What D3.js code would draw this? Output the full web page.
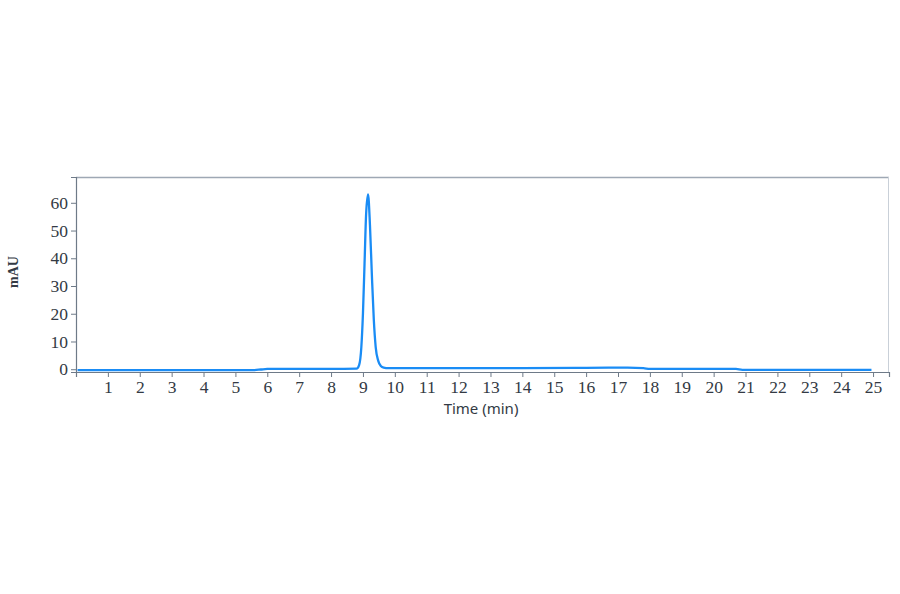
<!DOCTYPE html>
<html>
<head>
<meta charset="utf-8">
<script src="https://cdn.jsdelivr.net/npm/d3@7"></script>
<style>
  body { margin: 0; background: #fff; }
  svg { display: block; }
</style>
</head>
<body>
<div id="chart"></div>
<script>
// chromatogram readings (time in min, absorbance in mAU)
var times = [0.05, 3.0, 5.6, 5.8, 6.0, 6.3, 8.0, 8.8, 8.88, 8.95, 9.0, 9.05, 9.1, 9.16,
             9.22, 9.28, 9.34, 9.4, 9.48, 9.56, 9.65, 9.8, 10.5, 14.0, 16.0, 17.3,
             17.8, 18.0, 20.7, 20.9, 23.0, 24.95];
var values = [-0.3, -0.3, -0.3, -0.1, 0.1, 0.1, 0.1, 0.2, 1.5, 8, 20, 38, 56, 63,
              52, 34, 18, 8, 3, 1.2, 0.6, 0.4, 0.4, 0.4, 0.5, 0.6,
              0.4, 0.1, 0.1, -0.2, -0.2, -0.2];
var xTicks = d3.range(1, 26);
var yTicks = [0, 10, 20, 30, 40, 50, 60];

function drawChart(){
  var w = 900, h = 594,
    left = 76, right = 889, top = 177, bottom = 372;

  var svg = d3.select("#chart").append("svg")
        .attr("width", w)
        .attr("height", h);

  var x = d3.scaleLinear().domain([0, 25.5]).range([left, right]);
  var y = d3.scaleLinear().domain([-1.0, 69.3]).range([bottom, top]);

  // frame (top and right are lighter)
  svg.append("line")
    .attr("x1", left).attr("x2", right)
    .attr("y1", top + 0.5).attr("y2", top + 0.5)
    .attr("stroke", "#9ea8b4").attr("stroke-width", 1.5);
  svg.append("line")
    .attr("x1", right - 0.5).attr("x2", right - 0.5)
    .attr("y1", top).attr("y2", bottom)
    .attr("stroke", "#c9d0d8").attr("stroke-width", 1);

  // y axis
  var yAxis = svg.append("g")
    .attr("transform", "translate(" + left + ",0)")
    .call(d3.axisLeft(y).tickValues(yTicks).tickSize(5).tickPadding(3));

  // x axis
  var xAxis = svg.append("g")
    .attr("transform", "translate(0," + bottom + ")")
    .call(d3.axisBottom(x).tickValues(xTicks).tickSize(5).tickPadding(4));

  [xAxis, yAxis].forEach(function(a){
    a.select(".domain").attr("stroke", "#6e7a88").attr("stroke-width", 1.2);
    a.selectAll(".tick line").attr("stroke", "#6e7a88");
    a.selectAll(".tick text")
      .attr("fill", "#333a44")
      .style("font-family", "'Liberation Serif', 'DejaVu Serif', serif")
      .style("font-size", "17.5px");
  });

  // trace
  var line = d3.line()
    .x(function(d, i){ return x(times[i]); })
    .y(function(d){ return y(d); })
    .curve(d3.curveMonotoneX);

  svg.append("path")
    .datum(values)
    .attr("d", line)
    .attr("fill", "none")
    .attr("stroke", "#1a8cf5")
    .attr("stroke-width", 2.3)
    .attr("stroke-linejoin", "round");

  // axis titles
  svg.append("text")
    .attr("transform", "translate(" + 18 + "," + 272 + ") rotate(-90)")
    .attr("text-anchor", "middle")
    .style("font-family", "'Liberation Serif', 'DejaVu Serif', serif")
    .style("font-weight", "bold")
    .style("font-size", "14px")
    .attr("fill", "#333a44")
    .text("mAU");

  svg.append("text")
    .attr("transform", "translate(" + 481 + "," + 414 + ")")
    .attr("text-anchor", "middle")
    .style("font-family", "'Noto Sans', 'Open Sans', sans-serif")
    .style("font-size", "15px")
    .attr("fill", "#333a44")
    .text("Time (min)");
}

drawChart();
</script>
</body>
</html>
